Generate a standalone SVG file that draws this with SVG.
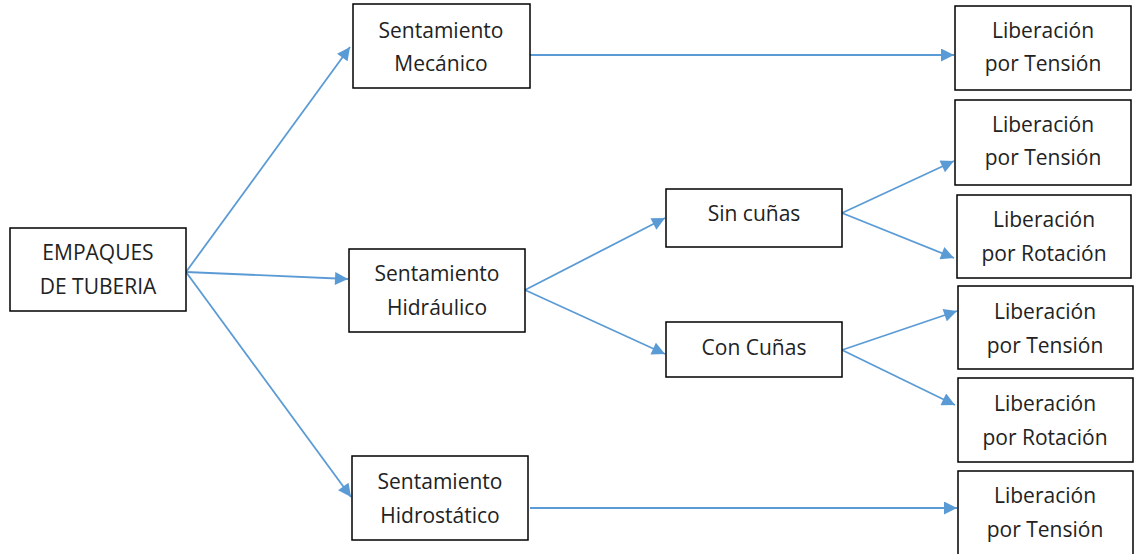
<svg xmlns="http://www.w3.org/2000/svg" width="1134" height="554" viewBox="0 0 1134 554">
<defs>
<marker id="ah" viewBox="0 0 10 10" refX="10" refY="5" markerWidth="14" markerHeight="13" markerUnits="userSpaceOnUse" orient="auto">
<path d="M0,0 L10,5 L0,10 Z" fill="#5B9BD5"/>
</marker>
<style>
.box{fill:#fff;stroke:#000;stroke-width:1.5}
.t{font-family:"Open Sans","Liberation Sans",Arial,sans-serif;font-size:21px;fill:#222;text-anchor:middle}
.c{stroke:#5B9BD5;stroke-width:1.8;fill:none;marker-end:url(#ah)}
</style>
</defs>
<rect width="1134" height="554" fill="#fff"/>
<g id="connectors">
<line class="c" x1="186" y1="272" x2="350" y2="47"/>
<line class="c" x1="186" y1="272" x2="348" y2="279"/>
<line class="c" x1="186" y1="272" x2="351" y2="497"/>
<line class="c" x1="530" y1="55" x2="954" y2="55"/>
<line class="c" x1="525" y1="290" x2="665" y2="218"/>
<line class="c" x1="525" y1="290" x2="665" y2="354"/>
<line class="c" x1="842" y1="213" x2="954" y2="161"/>
<line class="c" x1="842" y1="213" x2="954" y2="258"/>
<line class="c" x1="842" y1="350" x2="957" y2="311"/>
<line class="c" x1="842" y1="350" x2="955" y2="405"/>
<line class="c" x1="530" y1="508" x2="957" y2="508"/>
</g>
<g id="empaques"><rect class="box" x="10" y="228" width="176" height="83"/><text class="t" x="98" y="260">EMPAQUES</text><text class="t" x="98" y="294">DE TUBERIA</text></g>
<g id="mecanico"><rect class="box" x="353" y="4" width="177" height="84"/><text class="t" x="441" y="38">Sentamiento</text><text class="t" x="441" y="71">Mecánico</text></g>
<g id="hidraulico"><rect class="box" x="349" y="249" width="176" height="83"/><text class="t" x="437" y="281">Sentamiento</text><text class="t" x="437" y="315">Hidráulico</text></g>
<g id="hidrostatico"><rect class="box" x="352" y="456" width="176" height="84"/><text class="t" x="440" y="489">Sentamiento</text><text class="t" x="440" y="523">Hidrostático</text></g>
<g id="sincunas"><rect class="box" x="666" y="189" width="176" height="58"/><text class="t" x="754" y="221">Sin cuñas</text></g>
<g id="concunas"><rect class="box" x="666" y="322" width="176" height="55"/><text class="t" x="754" y="355">Con Cuñas</text></g>
<g id="lib1"><rect class="box" x="955" y="6" width="176" height="84"/><text class="t" x="1043" y="38">Liberación</text><text class="t" x="1043" y="71">por Tensión</text></g>
<g id="lib2"><rect class="box" x="955" y="100" width="176" height="85"/><text class="t" x="1043" y="132">Liberación</text><text class="t" x="1043" y="165">por Tensión</text></g>
<g id="lib3"><rect class="box" x="957" y="195" width="174" height="83"/><text class="t" x="1044" y="227">Liberación</text><text class="t" x="1044" y="261">por Rotación</text></g>
<g id="lib4"><rect class="box" x="958" y="286" width="175" height="83"/><text class="t" x="1045" y="319">Liberación</text><text class="t" x="1045" y="353">por Tensión</text></g>
<g id="lib5"><rect class="box" x="958" y="378" width="175" height="84"/><text class="t" x="1045" y="411">Liberación</text><text class="t" x="1045" y="445">por Rotación</text></g>
<g id="lib6"><rect class="box" x="958" y="471" width="175" height="90"/><text class="t" x="1045" y="503">Liberación</text><text class="t" x="1045" y="537">por Tensión</text></g>
</svg>
